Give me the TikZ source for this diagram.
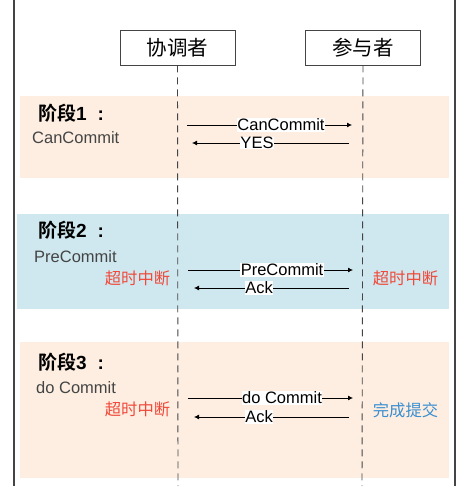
\documentclass[tikz,border=0pt]{standalone}
\usepackage{fontspec}
\setmainfont{Liberation Sans}
\newfontfamily\cjk{Noto Sans CJK SC}[BoldFont={Noto Sans CJK SC Bold}]
\usetikzlibrary{arrows.meta}
\definecolor{peach}{HTML}{FDEEE1}
\definecolor{lblue}{HTML}{CFE8EF}
\definecolor{tred}{HTML}{F0493A}
\definecolor{tblue}{HTML}{3B8ED0}
\definecolor{lgray}{HTML}{444444}
\newcommand{\phasetext}[1]{{\cjk\bfseries 阶段}{\bfseries #1}\hspace{11pt}{\bfseries :}}
\begin{document}
\begin{tikzpicture}[x=1pt,y=-1pt,
  actor/.style={draw=lgray,line width=0.9pt,minimum width=115pt,minimum height=35pt,inner sep=0pt,font=\cjk\fontsize{20.5}{20.5}\selectfont},
  phase/.style={anchor=west,inner sep=0pt,font=\fontsize{19}{19}\selectfont},
  sub/.style={anchor=west,inner sep=0pt,text=lgray,font=\fontsize{16.5}{16.5}\selectfont},
  msg/.style={-{Latex[length=5pt,width=5pt]},line width=0.8pt,black},
  lbl/.style={fill=white,inner sep=0.5pt,font=\fontsize{16.5}{16.5}\selectfont},
  note/.style={inner sep=0pt,font=\cjk\fontsize{16.3}{16.3}\selectfont},
  life/.style={dashed,dash pattern=on 7pt off 5pt,line width=0.9pt,lgray}]
\useasboundingbox (0,0) rectangle (471,492);
% frame lines
\draw[line width=1.2pt,lgray] (14,0) -- (14,486);
\draw[line width=1.2pt,lgray] (455,0) -- (455,486);
% bands
\fill[peach] (20,96) rectangle (449,178);
\fill[lblue] (17,214) rectangle (449,309);
\fill[peach] (20,342) rectangle (449,478);
% actors
\node[actor] (co) at (177.5,47.5) {协调者};
\node[actor] (pa) at (363,47.5) {参与者};
\coordinate (coEnd) at (178,486);
\coordinate (paEnd) at (362,486);
\draw[life] (co.south) -- (coEnd);
\draw[life] (pa.south) -- (paEnd);
% phase 1
\node[phase] (p1) at (38,113) {\phasetext{1}};
\node[sub] (s1) at (32,138) {CanCommit};
\coordinate (a1s) at (187,125); \coordinate (a1e) at (352,125);
\draw[msg] (a1s) -- (a1e);
\node[lbl] (l1) at (281,125) {CanCommit};
\coordinate (b1s) at (349,143); \coordinate (b1e) at (192,143);
\draw[msg] (b1s) -- (b1e);
\node[lbl] (m1) at (257,143) {YES};
% phase 2
\node[phase] (p2) at (38,230) {\phasetext{2}};
\node[sub] (s2) at (34,257) {PreCommit};
\node[note,text=tred] (t2l) at (137.5,278) {超时中断};
\node[note,text=tred] (t2r) at (405.5,278) {超时中断};
\coordinate (a2s) at (188,270); \coordinate (a2e) at (353,270);
\draw[msg] (a2s) -- (a2e);
\node[lbl] (l2) at (282,270) {PreCommit};
\coordinate (b2s) at (349,288); \coordinate (b2e) at (194,288);
\draw[msg] (b2s) -- (b2e);
\node[lbl] (m2) at (259,288) {Ack};
% phase 3
\node[phase] (p3) at (38,362) {\phasetext{3}};
\node[sub] (s3) at (36,388) {do Commit};
\node[note,text=tred] (t3l) at (137.5,409) {超时中断};
\node[note,text=tblue] (t3r) at (405.5,410) {完成提交};
\coordinate (a3s) at (188,398); \coordinate (a3e) at (353,398);
\draw[msg] (a3s) -- (a3e);
\node[lbl] (l3) at (282,398) {do Commit};
\coordinate (b3s) at (349,417); \coordinate (b3e) at (194,417);
\draw[msg] (b3s) -- (b3e);
\node[lbl] (m3) at (259,417) {Ack};
\end{tikzpicture}
\end{document}
